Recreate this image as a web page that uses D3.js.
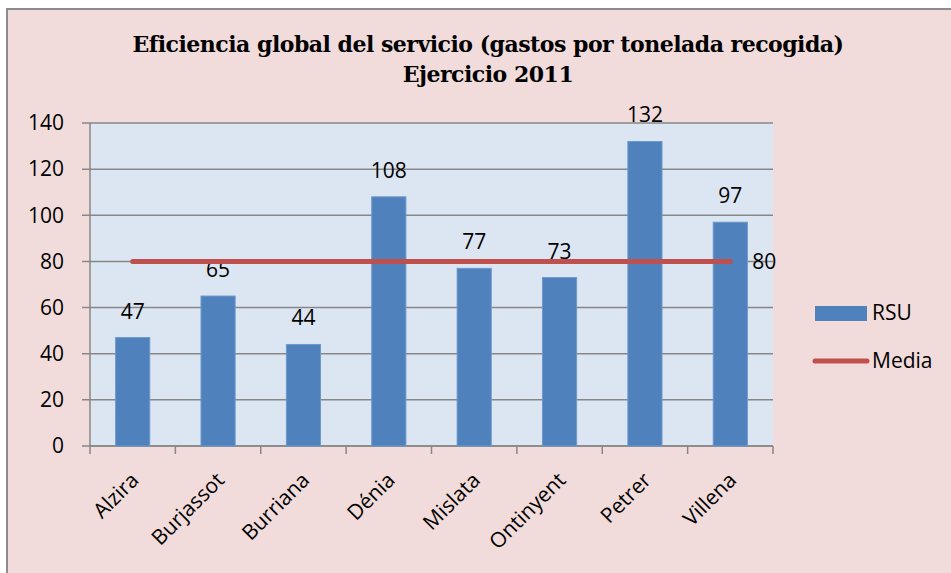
<meta charset="utf-8">
<script src="https://cdn.jsdelivr.net/npm/d3@7"></script>

<style>
  body { margin: 0; background: #fff; }
  text { font-family: "Open Sans", sans-serif; fill: #000; }
</style>

<body>
  <svg id='svg'></svg>
</body>

<script>
  let width = 951;
  let height = 573;

  // data
  let municipios = ['Alzira', 'Burjassot', 'Burriana', 'Dénia', 'Mislata', 'Ontinyent', 'Petrer', 'Villena'];
  let rsu = [47, 65, 44, 108, 77, 73, 132, 97];
  let media = [80, 80, 80, 80, 80, 80, 80, 80];
  let yTicks = [0, 20, 40, 60, 80, 100, 120, 140];
  let titulo = ['Eficiencia global del servicio (gastos por tonelada recogida)', 'Ejercicio 2011'];

  let plot = { left: 90, right: 773, top: 123, bottom: 446 };

  let svg = d3.select('#svg')
    .attr('width', width)
    .attr('height', height);

  // chart background + border
  svg.append('rect')
    .attr('x', 7).attr('y', 9)
    .attr('width', width).attr('height', height)
    .attr('fill', '#f2dcdb')
    .attr('stroke', '#8c8c8c')
    .attr('stroke-width', 2);

  let x = d3.scaleBand()
    .domain(municipios)
    .range([plot.left, plot.right])
    .paddingInner(0.6)
    .paddingOuter(0.3);

  let xCat = d3.scaleBand()
    .domain(municipios)
    .range([plot.left, plot.right]);

  let y = d3.scaleLinear()
    .domain([0, 140])
    .range([plot.bottom, plot.top]);

  // plot area
  svg.append('rect')
    .attr('x', plot.left).attr('y', plot.top)
    .attr('width', plot.right - plot.left)
    .attr('height', plot.bottom - plot.top)
    .attr('fill', '#dce6f2');

  // gridlines
  svg.append('g')
    .selectAll('line')
    .data(yTicks)
    .enter()
    .append('line')
    .attr('x1', plot.left - 8)
    .attr('x2', plot.right)
    .attr('y1', d => y(d))
    .attr('y2', d => y(d))
    .attr('stroke', '#878787')
    .attr('stroke-width', 1.5);

  // y labels
  svg.append('g')
    .selectAll('text')
    .data(yTicks)
    .enter()
    .append('text')
    .attr('x', 64)
    .attr('y', d => y(d))
    .attr('dy', '0.35em')
    .attr('text-anchor', 'end')
    .style('font-size', '21px')
    .text(d => d);

  // y axis line
  svg.append('line')
    .attr('x1', plot.left).attr('x2', plot.left)
    .attr('y1', plot.top).attr('y2', plot.bottom)
    .attr('stroke', '#878787')
    .attr('stroke-width', 1.5);

  // x axis + ticks
  svg.append('line')
    .attr('x1', plot.left).attr('x2', plot.right)
    .attr('y1', plot.bottom).attr('y2', plot.bottom)
    .attr('stroke', '#878787')
    .attr('stroke-width', 1.5);

  let tickPos = municipios.map(m => xCat(m)).concat([plot.right]);
  svg.append('g')
    .selectAll('line')
    .data(tickPos)
    .enter()
    .append('line')
    .attr('x1', d => d).attr('x2', d => d)
    .attr('y1', plot.bottom).attr('y2', plot.bottom + 8)
    .attr('stroke', '#878787')
    .attr('stroke-width', 1.5);

  // bars
  svg.append('g')
    .selectAll('rect')
    .data(rsu)
    .enter()
    .append('rect')
    .attr('x', (d, i) => x(municipios[i]))
    .attr('y', d => y(d))
    .attr('width', x.bandwidth())
    .attr('height', d => y(0) - y(d))
    .attr('fill', '#4f81bd')
    .attr('stroke', '#6f98cc')
    .attr('stroke-width', 1);

  // bar labels
  svg.append('g')
    .selectAll('text')
    .data(rsu)
    .enter()
    .append('text')
    .attr('x', (d, i) => x(municipios[i]) + x.bandwidth() / 2)
    .attr('y', d => y(d) - 19)
    .attr('text-anchor', 'middle')
    .style('font-size', '21px')
    .text(d => d);

  // media line
  let line = d3.line()
    .x((d, i) => xCat(municipios[i]) + xCat.bandwidth() / 2)
    .y(d => y(d));

  svg.append('path')
    .attr('d', line(media))
    .attr('fill', 'none')
    .attr('stroke', '#c0504d')
    .attr('stroke-width', 5)
    .attr('stroke-linecap', 'round');

  let last = media.length - 1;
  svg.append('text')
    .attr('x', xCat(municipios[last]) + xCat.bandwidth() / 2 + 22)
    .attr('y', y(media[last]))
    .attr('dy', '0.35em')
    .style('font-size', '21px')
    .text(media[last]);

  // x labels
  svg.append('g')
    .selectAll('text')
    .data(municipios)
    .enter()
    .append('text')
    .attr('transform', d => `translate(${xCat(d) + xCat.bandwidth() / 2 - 3},${plot.bottom + 25}) rotate(-45)`)
    .attr('text-anchor', 'end')
    .attr('dy', '0.7em')
    .style('font-size', '21px')
    .text(d => d);

  // title
  svg.append('g')
    .selectAll('text')
    .data(titulo)
    .enter()
    .append('text')
    .attr('x', 488)
    .attr('y', (d, i) => 52 + i * 30)
    .attr('text-anchor', 'middle')
    .style('font-family', '"DejaVu Serif", serif')
    .style('font-weight', 'bold')
    .style('font-size', '22px')
    .style('letter-spacing', '-0.5px')
    .text(d => d);

  // legend
  let legend = svg.append('g');
  legend.append('rect')
    .attr('x', 815).attr('y', 306)
    .attr('width', 52).attr('height', 15)
    .attr('fill', '#4f81bd');
  legend.append('text')
    .attr('x', 872).attr('y', 313)
    .attr('dy', '0.35em')
    .style('font-size', '21px')
    .text('RSU');
  legend.append('line')
    .attr('x1', 815).attr('x2', 867)
    .attr('y1', 361).attr('y2', 361)
    .attr('stroke', '#c0504d')
    .attr('stroke-width', 5)
    .attr('stroke-linecap', 'round');
  legend.append('text')
    .attr('x', 872).attr('y', 361)
    .attr('dy', '0.35em')
    .style('font-size', '21px')
    .text('Media');
</script>
